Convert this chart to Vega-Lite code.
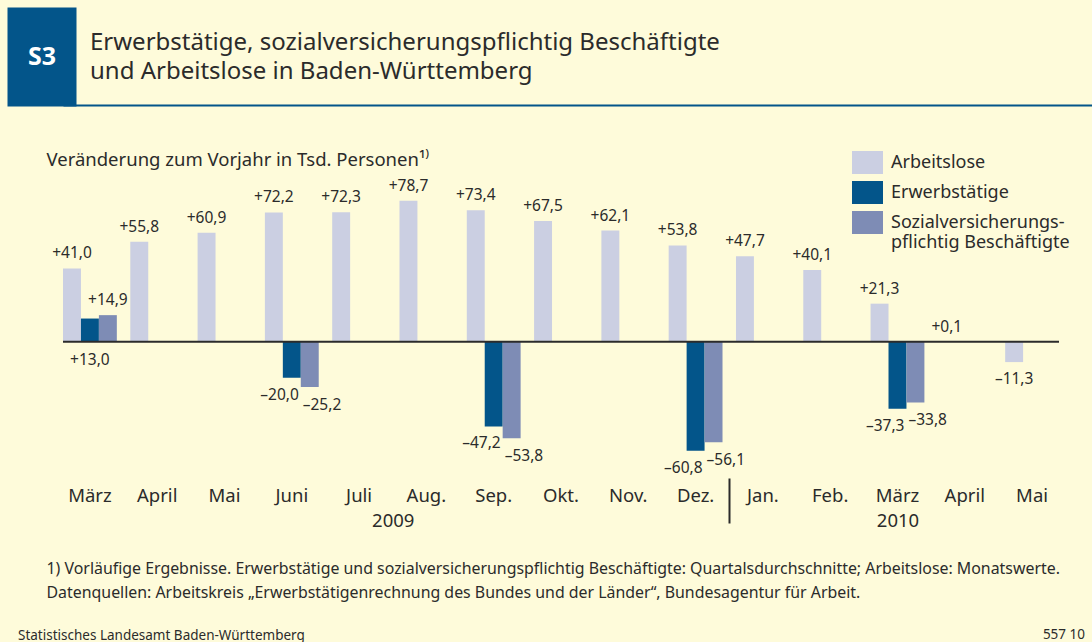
{
  "$schema": "https://vega.github.io/schema/vega-lite/v6.json",
  "background": "#FEFBDA",
  "padding": {"left": 7, "top": 7, "right": 0, "bottom": 0},
  "columns": 1,
  "align": "none",
  "spacing": 36,
  "resolve": {"scale": {"color": "independent"}, "legend": {"color": "independent"}},
  "title": {"text": "557 10", "orient": "bottom", "anchor": "end", "offset": 0, "dy": -14, "dx": -7, "fontSize": 13.5, "fontWeight": "normal", "color": "#2B2B2B"},
  "concat": [
    {
      "width": 1029, "height": 99,
      "data": {"values": [{"a": 0, "b": 0}]},
      "mark": {"type": "text", "text": ""},
      "encoding": {
        "x": {"field": "a", "type": "quantitative", "scale": {"domain": [0, 1]},
              "axis": {"orient": "bottom", "title": null, "labels": false, "ticks": false, "grid": false, "domain": true, "domainColor": "#03558A", "domainWidth": 2, "offset": -1}},
        "y": {"field": "b", "type": "quantitative", "scale": {"domain": [0, 1]},
              "axis": {"orient": "left", "title": "S3", "labels": false, "ticks": false, "grid": false, "domain": true, "domainColor": "#03558A", "domainWidth": 69, "domainCap": "butt", "offset": 21.5, "minExtent": 34.5, "maxExtent": 34.5, "titleX": 0, "titleY": 49, "titleAngle": 0, "titleAlign": "center", "titleBaseline": "middle", "titleColor": "#FFFFFF", "titleFontSize": 25, "titleFontWeight": "bold"}}
      },
      "title": {"text": ["Erwerbstätige, sozialversicherungspflichtig Beschäftigte", "und Arbeitslose in Baden-Württemberg"], "orient": "top", "anchor": "start", "frame": "group", "align": "left", "baseline": "top", "offset": 0, "dx": 27, "dy": 77, "fontSize": 24, "fontWeight": "normal", "lineHeight": 29, "color": "#2B2B2B"}
    },
    {
      "width": 996, "height": 301,
      "title": {"text": "Statistisches Landesamt Baden-Württemberg", "orient": "bottom", "anchor": "start", "frame": "group", "dx": -45, "offset": 29, "fontSize": 13.5, "fontWeight": "normal", "color": "#2B2B2B"},
      "resolve": {"scale": {"x": "independent"}, "axis": {"x": "independent"}},
      "layer": [
        {
          "data": {"values": [
            {"monat": "März 2009", "reihe": "Arbeitslose", "wert": 41.0},
            {"monat": "April 2009", "reihe": "Arbeitslose", "wert": 55.8},
            {"monat": "Mai 2009", "reihe": "Arbeitslose", "wert": 60.9},
            {"monat": "Juni 2009", "reihe": "Arbeitslose", "wert": 72.2},
            {"monat": "Juli 2009", "reihe": "Arbeitslose", "wert": 72.3},
            {"monat": "Aug. 2009", "reihe": "Arbeitslose", "wert": 78.7},
            {"monat": "Sep. 2009", "reihe": "Arbeitslose", "wert": 73.4},
            {"monat": "Okt. 2009", "reihe": "Arbeitslose", "wert": 67.5},
            {"monat": "Nov. 2009", "reihe": "Arbeitslose", "wert": 62.1},
            {"monat": "Dez. 2009", "reihe": "Arbeitslose", "wert": 53.8},
            {"monat": "Jan. 2010", "reihe": "Arbeitslose", "wert": 47.7},
            {"monat": "Feb. 2010", "reihe": "Arbeitslose", "wert": 40.1},
            {"monat": "März 2010", "reihe": "Arbeitslose", "wert": 21.3},
            {"monat": "April 2010", "reihe": "Arbeitslose", "wert": 0.1},
            {"monat": "Mai 2010", "reihe": "Arbeitslose", "wert": -11.3},
            {"monat": "März 2009", "reihe": "Erwerbstätige", "wert": 13.0},
            {"monat": "Juni 2009", "reihe": "Erwerbstätige", "wert": -20.0},
            {"monat": "Sep. 2009", "reihe": "Erwerbstätige", "wert": -47.2},
            {"monat": "Dez. 2009", "reihe": "Erwerbstätige", "wert": -60.8},
            {"monat": "März 2010", "reihe": "Erwerbstätige", "wert": -37.3},
            {"monat": "März 2009", "reihe": "Sozialversicherungspflichtig Beschäftigte", "wert": 14.9},
            {"monat": "Juni 2009", "reihe": "Sozialversicherungspflichtig Beschäftigte", "wert": -25.2},
            {"monat": "Sep. 2009", "reihe": "Sozialversicherungspflichtig Beschäftigte", "wert": -53.8},
            {"monat": "Dez. 2009", "reihe": "Sozialversicherungspflichtig Beschäftigte", "wert": -56.1},
            {"monat": "März 2010", "reihe": "Sozialversicherungspflichtig Beschäftigte", "wert": -33.8}
          ]},
          "layer": [
            {
              "mark": {"type": "bar"},
              "encoding": {
                "x": {"field": "monat", "type": "nominal", "title": null,
                      "scale": {"domain": ["März 2009","April 2009","Mai 2009","Juni 2009","Juli 2009","Aug. 2009","Sep. 2009","Okt. 2009","Nov. 2009","Dez. 2009","Jan. 2010","Feb. 2010","März 2010","April 2010","Mai 2010"], "paddingInner": 0.2, "paddingOuter": 0},
                      "axis": {"title": null, "labelExpr": "split(datum.label, ' ')[0]", "ticks": false, "domain": false, "grid": false, "labelPadding": 8, "labelFontSize": 18.5, "labelColor": "#2B2B2B", "labelAngle": 0}},
                "xOffset": {"field": "reihe", "type": "nominal", "scale": {"domain": ["Arbeitslose", "Erwerbstätige", "Sozialversicherungspflichtig Beschäftigte"], "paddingInner": 0, "paddingOuter": 0}},
                "y": {"field": "wert", "type": "quantitative",
                      "scale": {"domain": [-76, 92], "nice": false},
                      "axis": {"title": "Veränderung zum Vorjahr in Tsd. Personen¹⁾", "labels": false, "ticks": false, "domain": false, "grid": false, "minExtent": 56, "maxExtent": 56, "titleX": -17, "titleY": -18, "titleAngle": 0, "titleAlign": "left", "titleBaseline": "middle", "titleFontSize": 18.5, "titleFontWeight": "normal", "titleColor": "#2B2B2B"}},
                "color": {"field": "reihe", "type": "nominal",
                          "scale": {"domain": ["Arbeitslose", "Erwerbstätige", "Sozialversicherungspflichtig Beschäftigte"], "range": ["#CBCFE2", "#03558A", "#7E8CB5"]},
                          "legend": {"orient": "none", "legendX": 789, "legendY": -30, "title": null, "padding": 0, "symbolType": "M-1,-0.742H1V0.742H-1Z", "symbolSize": 961, "symbolStrokeWidth": 0, "symbolOpacity": 1, "labelFontSize": 18, "labelColor": "#2B2B2B", "labelOffset": 8, "rowPadding": 2, "labelLimit": 300,
                                     "labelExpr": "datum.label == 'Sozialversicherungspflichtig Beschäftigte' ? ['Sozialversicherungs-', 'pflichtig Beschäftigte'] : datum.label"}}
              }
            },
            {
              "data": {"values": [{}]},
              "mark": {"type": "rule", "color": "#2B2B2B", "strokeWidth": 2},
              "encoding": {"y": {"datum": 0, "type": "quantitative", "scale": {"domain": [-76, 92], "nice": false}}}
            },
            {
              "transform": [{"filter": "datum.reihe == 'Arbeitslose' && datum.wert >= 0"}],
              "mark": {"type": "text", "fontSize": 15.5, "color": "#2B2B2B", "baseline": "alphabetic", "dy": -10},
              "encoding": {
                "x": {"field": "monat", "type": "nominal", "scale": {"domain": ["März 2009","April 2009","Mai 2009","Juni 2009","Juli 2009","Aug. 2009","Sep. 2009","Okt. 2009","Nov. 2009","Dez. 2009","Jan. 2010","Feb. 2010","März 2010","April 2010","Mai 2010"], "paddingInner": 0.2, "paddingOuter": 0}},
                "xOffset": {"field": "reihe", "type": "nominal", "scale": {"domain": ["Arbeitslose", "Erwerbstätige", "Sozialversicherungspflichtig Beschäftigte"], "paddingInner": 0, "paddingOuter": 0}},
                "y": {"field": "wert", "type": "quantitative", "scale": {"domain": [-76, 92], "nice": false}},
                "text": {"field": "wert", "type": "quantitative", "format": "+.1f"}
              }
            },
            {
              "transform": [{"filter": "datum.reihe == 'Arbeitslose' && datum.wert < 0"}],
              "mark": {"type": "text", "fontSize": 15.5, "color": "#2B2B2B", "baseline": "alphabetic", "dy": 22},
              "encoding": {
                "x": {"field": "monat", "type": "nominal", "scale": {"domain": ["März 2009","April 2009","Mai 2009","Juni 2009","Juli 2009","Aug. 2009","Sep. 2009","Okt. 2009","Nov. 2009","Dez. 2009","Jan. 2010","Feb. 2010","März 2010","April 2010","Mai 2010"], "paddingInner": 0.2, "paddingOuter": 0}},
                "xOffset": {"field": "reihe", "type": "nominal", "scale": {"domain": ["Arbeitslose", "Erwerbstätige", "Sozialversicherungspflichtig Beschäftigte"], "paddingInner": 0, "paddingOuter": 0}},
                "y": {"field": "wert", "type": "quantitative", "scale": {"domain": [-76, 92], "nice": false}},
                "text": {"field": "wert", "type": "quantitative", "format": "+.1f"}
              }
            },
            {
              "transform": [{"filter": "datum.reihe == 'Sozialversicherungspflichtig Beschäftigte' && datum.wert >= 0"}],
              "mark": {"type": "text", "fontSize": 15.5, "color": "#2B2B2B", "baseline": "alphabetic", "dy": -10},
              "encoding": {
                "x": {"field": "monat", "type": "nominal", "scale": {"domain": ["März 2009","April 2009","Mai 2009","Juni 2009","Juli 2009","Aug. 2009","Sep. 2009","Okt. 2009","Nov. 2009","Dez. 2009","Jan. 2010","Feb. 2010","März 2010","April 2010","Mai 2010"], "paddingInner": 0.2, "paddingOuter": 0}},
                "xOffset": {"field": "reihe", "type": "nominal", "scale": {"domain": ["Arbeitslose", "Erwerbstätige", "Sozialversicherungspflichtig Beschäftigte"], "paddingInner": 0, "paddingOuter": 0}},
                "y": {"field": "wert", "type": "quantitative", "scale": {"domain": [-76, 92], "nice": false}},
                "text": {"field": "wert", "type": "quantitative", "format": "+.1f"}
              }
            },
            {
              "transform": [{"filter": "datum.reihe == 'Erwerbstätige' && datum.wert >= 0"}],
              "mark": {"type": "text", "fontSize": 15.5, "color": "#2B2B2B", "baseline": "alphabetic", "dy": 23},
              "encoding": {
                "x": {"field": "monat", "type": "nominal", "scale": {"domain": ["März 2009","April 2009","Mai 2009","Juni 2009","Juli 2009","Aug. 2009","Sep. 2009","Okt. 2009","Nov. 2009","Dez. 2009","Jan. 2010","Feb. 2010","März 2010","April 2010","Mai 2010"], "paddingInner": 0.2, "paddingOuter": 0}},
                "xOffset": {"field": "reihe", "type": "nominal", "scale": {"domain": ["Arbeitslose", "Erwerbstätige", "Sozialversicherungspflichtig Beschäftigte"], "paddingInner": 0, "paddingOuter": 0}},
                "y": {"datum": 0, "type": "quantitative", "scale": {"domain": [-76, 92], "nice": false}},
                "text": {"field": "wert", "type": "quantitative", "format": "+.1f"}
              }
            },
            {
              "transform": [{"filter": "datum.reihe == 'Erwerbstätige' && datum.wert < 0"}],
              "mark": {"type": "text", "fontSize": 15.5, "color": "#2B2B2B", "baseline": "alphabetic", "align": "right", "dx": 7, "dy": 22},
              "encoding": {
                "x": {"field": "monat", "type": "nominal", "scale": {"domain": ["März 2009","April 2009","Mai 2009","Juni 2009","Juli 2009","Aug. 2009","Sep. 2009","Okt. 2009","Nov. 2009","Dez. 2009","Jan. 2010","Feb. 2010","März 2010","April 2010","Mai 2010"], "paddingInner": 0.2, "paddingOuter": 0}},
                "xOffset": {"field": "reihe", "type": "nominal", "scale": {"domain": ["Arbeitslose", "Erwerbstätige", "Sozialversicherungspflichtig Beschäftigte"], "paddingInner": 0, "paddingOuter": 0}},
                "y": {"field": "wert", "type": "quantitative", "scale": {"domain": [-76, 92], "nice": false}},
                "text": {"field": "wert", "type": "quantitative", "format": "+.1f"}
              }
            },
            {
              "transform": [{"filter": "datum.reihe == 'Sozialversicherungspflichtig Beschäftigte' && datum.wert < 0"}],
              "mark": {"type": "text", "fontSize": 15.5, "color": "#2B2B2B", "baseline": "alphabetic", "align": "left", "dx": -7, "dy": 23},
              "encoding": {
                "x": {"field": "monat", "type": "nominal", "scale": {"domain": ["März 2009","April 2009","Mai 2009","Juni 2009","Juli 2009","Aug. 2009","Sep. 2009","Okt. 2009","Nov. 2009","Dez. 2009","Jan. 2010","Feb. 2010","März 2010","April 2010","Mai 2010"], "paddingInner": 0.2, "paddingOuter": 0}},
                "xOffset": {"field": "reihe", "type": "nominal", "scale": {"domain": ["Arbeitslose", "Erwerbstätige", "Sozialversicherungspflichtig Beschäftigte"], "paddingInner": 0, "paddingOuter": 0}},
                "y": {"field": "wert", "type": "quantitative", "scale": {"domain": [-76, 92], "nice": false}},
                "text": {"field": "wert", "type": "quantitative", "format": "+.1f"}
              }
            }
          ]
        },
        {
          "data": {"values": [{"jahr": "2009", "pos": 4.5}, {"jahr": "2010", "pos": 12}]},
          "mark": {"type": "text", "text": ""},
          "encoding": {
            "x": {"field": "pos", "type": "quantitative",
                  "scale": {"domain": [-0.4, 14.4], "nice": false, "zero": false},
                  "axis": {"orient": "bottom", "values": [4.5, 9.5, 12], "labelExpr": "datum.value == 4.5 ? '2009' : datum.value == 12 ? '2010' : ''", "domain": false, "grid": false, "ticks": true, "tickSize": 45, "tickWidth": 2, "tickColor": "#2B2B2B",
                           "tickOpacity": {"condition": {"test": "datum.value == 9.5", "value": 1}, "value": 0},
                           "labelPadding": -12, "labelFontSize": 18.5, "labelColor": "#2B2B2B", "labelFlush": false, "labelOverlap": false, "labelBound": false,
                           "title": ["1) Vorläufige Ergebnisse. Erwerbstätige und sozialversicherungspflichtig Beschäftigte: Quartalsdurchschnitte; Arbeitslose: Monatswerte.", "Datenquellen: Arbeitskreis „Erwerbstätigenrechnung des Bundes und der Länder“, Bundesagentur für Arbeit."],
                           "titleX": -17, "titleY": 82, "titleAlign": "left", "titleAnchor": "start", "titleBaseline": "top", "titleAngle": 0, "titleFontSize": 15.9, "titleFontWeight": "normal", "titleColor": "#2B2B2B", "titleLineHeight": 24}}
          }
        }
      ]
    }
  ],
  "config": {
    "font": "Noto Sans",
    "view": {"stroke": null},
    "locale": {"number": {"decimal": ",", "thousands": ".", "grouping": [3], "currency": ["", " €"], "minus": "–"}}
  }
}
